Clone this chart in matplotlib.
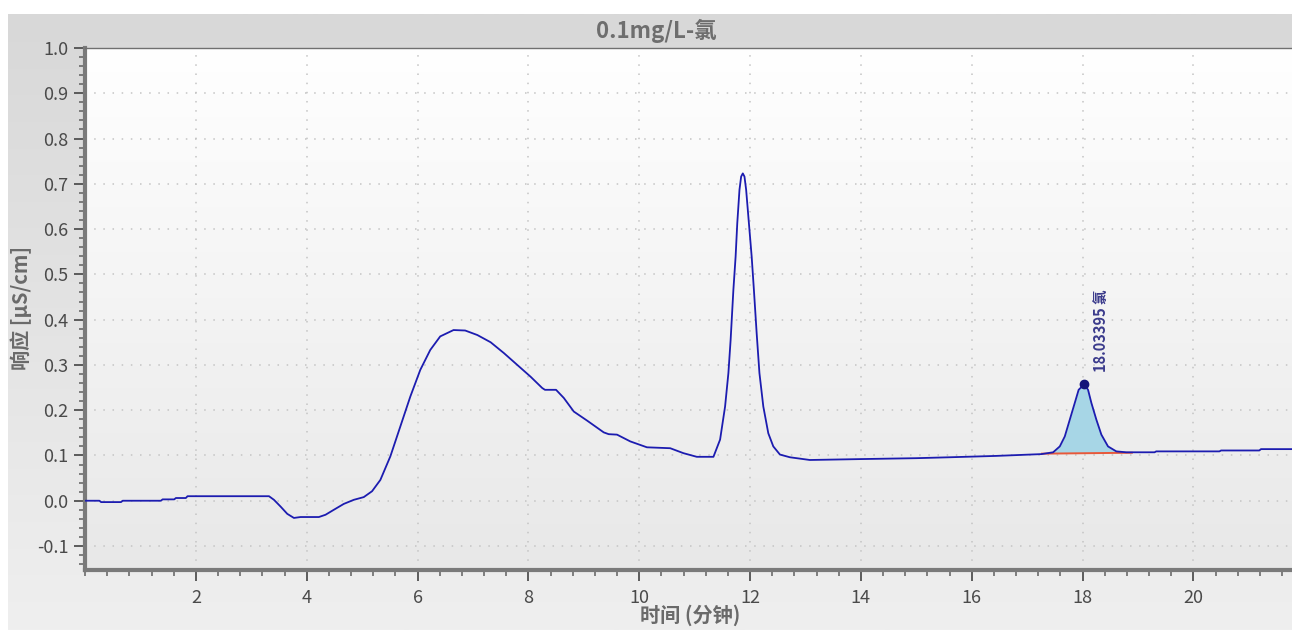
#chromatogram plotting code
import numpy as np
import matplotlib.pyplot as plt
from matplotlib.ticker import MultipleLocator

plt.rcParams['font.family'] = ['Noto Sans CJK SC', 'DejaVu Sans']

# retention time (min) and response (uS/cm)
time = [0.0, 0.26, 0.29, 0.65, 0.68, 1.37, 1.40, 1.61, 1.64, 1.82, 1.85, 3.32,
        3.41, 3.53, 3.65, 3.77, 3.89, 4.22, 4.34, 4.49, 4.67, 4.85, 5.03, 5.18,
        5.33, 5.51, 5.69, 5.87, 6.05, 6.23, 6.41, 6.65, 6.86, 7.08, 7.32, 7.56,
        7.80, 8.04, 8.25, 8.30, 8.50, 8.64, 8.82, 9.06, 9.36, 9.45, 9.60, 9.84,
        10.14, 10.56, 10.80, 11.04, 11.34, 11.46, 11.55, 11.61, 11.65, 11.70,
        11.74, 11.77, 11.81, 11.84, 11.87, 11.90, 11.93, 11.98, 12.03, 12.07,
        12.12, 12.17, 12.24, 12.33, 12.42, 12.54, 12.72, 13.08, 14.0, 15.0,
        15.6, 16.44, 17.26, 17.47, 17.59, 17.68, 17.77, 17.86, 17.93, 18.03,
        18.10, 18.16, 18.25, 18.34, 18.46, 18.61, 18.79, 19.30, 19.33, 20.47,
        20.50, 21.19, 21.22, 21.78]
response = [0.0, 0.0, -0.003, -0.003, 0.0, 0.0, 0.003, 0.003, 0.006, 0.006, 0.010, 0.010,
            0.002, -0.013, -0.029, -0.038, -0.036, -0.036, -0.031, -0.020, -0.007, 0.002, 0.008, 0.021,
            0.046, 0.098, 0.164, 0.230, 0.289, 0.333, 0.363, 0.377, 0.376, 0.366, 0.350, 0.326,
            0.300, 0.274, 0.249, 0.245, 0.245, 0.227, 0.197, 0.177, 0.151, 0.147, 0.146, 0.131,
            0.118, 0.116, 0.105, 0.097, 0.097, 0.135, 0.208, 0.282, 0.355, 0.466,
            0.539, 0.613, 0.687, 0.716, 0.723, 0.716, 0.687, 0.613, 0.539, 0.466,
            0.370, 0.282, 0.208, 0.149, 0.120, 0.102, 0.096, 0.090, 0.092, 0.094,
            0.096, 0.099, 0.103, 0.107, 0.120, 0.142, 0.179, 0.216, 0.245, 0.257,
            0.245, 0.216, 0.179, 0.146, 0.120, 0.109, 0.107, 0.107, 0.109, 0.109,
            0.111, 0.111, 0.114, 0.114]

# integrated peak (chloride)
peak_time = 18.03395
peak_height = 0.257
peak_name = '氯'
baseline_t = [17.27, 18.89]
baseline_y = [0.104, 0.106]

title = '0.1mg/L-氯'

t = np.array(time)
r = np.array(response)

fig = plt.figure(figsize=(12.92, 6.30), dpi=100)
fig.patch.set_facecolor('white')

# grey panel background with soft gradient
bg = fig.add_axes([8/1292, 0, 1 - 8/1292, (630 - 14)/630])
grad = np.linspace(0, 1, 256).reshape(-1, 1)
bg.imshow(grad, aspect='auto', cmap=plt.matplotlib.colors.LinearSegmentedColormap.from_list('g', ['#d8d8d8', '#efefef']),
          extent=[0, 1, 0, 1], origin='upper')
bg.axis('off')

ax = fig.add_axes([85/1292, 60/630, (1292 - 85)/1292, (570 - 48)/630])
ax.set_xlim(0, 21.78)
ax.set_ylim(-0.153, 1.0)

# plot area gradient
ax.imshow(grad, aspect='auto', cmap=plt.matplotlib.colors.LinearSegmentedColormap.from_list('p', ['#ffffff', '#e8e8e8']),
          extent=[0, 21.78, -0.153, 1.0], origin='upper', zorder=0)

ax.grid(True, which='major', color='#c4c4c4', linestyle=(0, (1, 5)), linewidth=1.1, zorder=1)

# peak area and baseline
mask = (t >= baseline_t[0]) & (t <= baseline_t[1])
base = np.interp(t[mask], baseline_t, baseline_y)
ax.fill_between(t[mask], base, np.maximum(r[mask], base), color='#a7d6e6', zorder=2, linewidth=0)
ax.plot(baseline_t, baseline_y, color='#e8583a', linewidth=1.4, zorder=3)

ax.plot(t, r, color='#1c1cb0', linewidth=1.3, zorder=4)
ax.plot([peak_time], [peak_height], 'o', color='#14147a', markersize=6, zorder=5)
ax.annotate(f'{peak_time:.5f} {peak_name}', xy=(peak_time, peak_height),
            xytext=(12, 9), textcoords='offset points', rotation=90,
            ha='center', va='bottom', fontsize=10.5, fontweight='bold', color='#3b3b8c')

ax.xaxis.set_major_locator(MultipleLocator(2))
ax.xaxis.set_minor_locator(MultipleLocator(0.4))
ax.yaxis.set_major_locator(MultipleLocator(0.1))
ax.yaxis.set_minor_locator(MultipleLocator(0.02))
ax.set_xticks([2, 4, 6, 8, 10, 12, 14, 16, 18, 20])
ax.set_yticks(np.round(np.arange(-0.1, 1.01, 0.1), 1))
ax.yaxis.set_major_formatter(plt.FuncFormatter(lambda v, p: f'{v:.1f}'))

ax.tick_params(which='major', direction='out', length=8, width=1.3, color='#505050',
               labelsize=13, labelcolor='#4a4a4a')
ax.tick_params(axis='x', which='major', pad=6)
ax.tick_params(axis='y', which='major', pad=4)
ax.tick_params(which='minor', direction='out', length=4, width=1.1, color='#606060')

for side in ['left', 'bottom']:
    ax.spines[side].set_linewidth(3)
    ax.spines[side].set_color('#7a7a7a')
ax.spines['top'].set_linewidth(1)
ax.spines['top'].set_color('#707070')
ax.spines['right'].set_visible(False)

fig.text(656/1292, 1 - 31/630, title, ha='center', va='center', fontsize=16,
         fontweight='bold', color='#6e6e6e')
fig.text(21/1292, 1 - 308/630, '响应 [µS/cm]', rotation=90, ha='center', va='center',
         fontsize=14.5, fontweight='bold', color='#6a6a6a')
fig.text(690/1292, 1 - 615/630, '时间 (分钟)', ha='center', va='center',
         fontsize=14.5, fontweight='bold', color='#6a6a6a')

plt.savefig('out.png', dpi=100)
plt.close()
